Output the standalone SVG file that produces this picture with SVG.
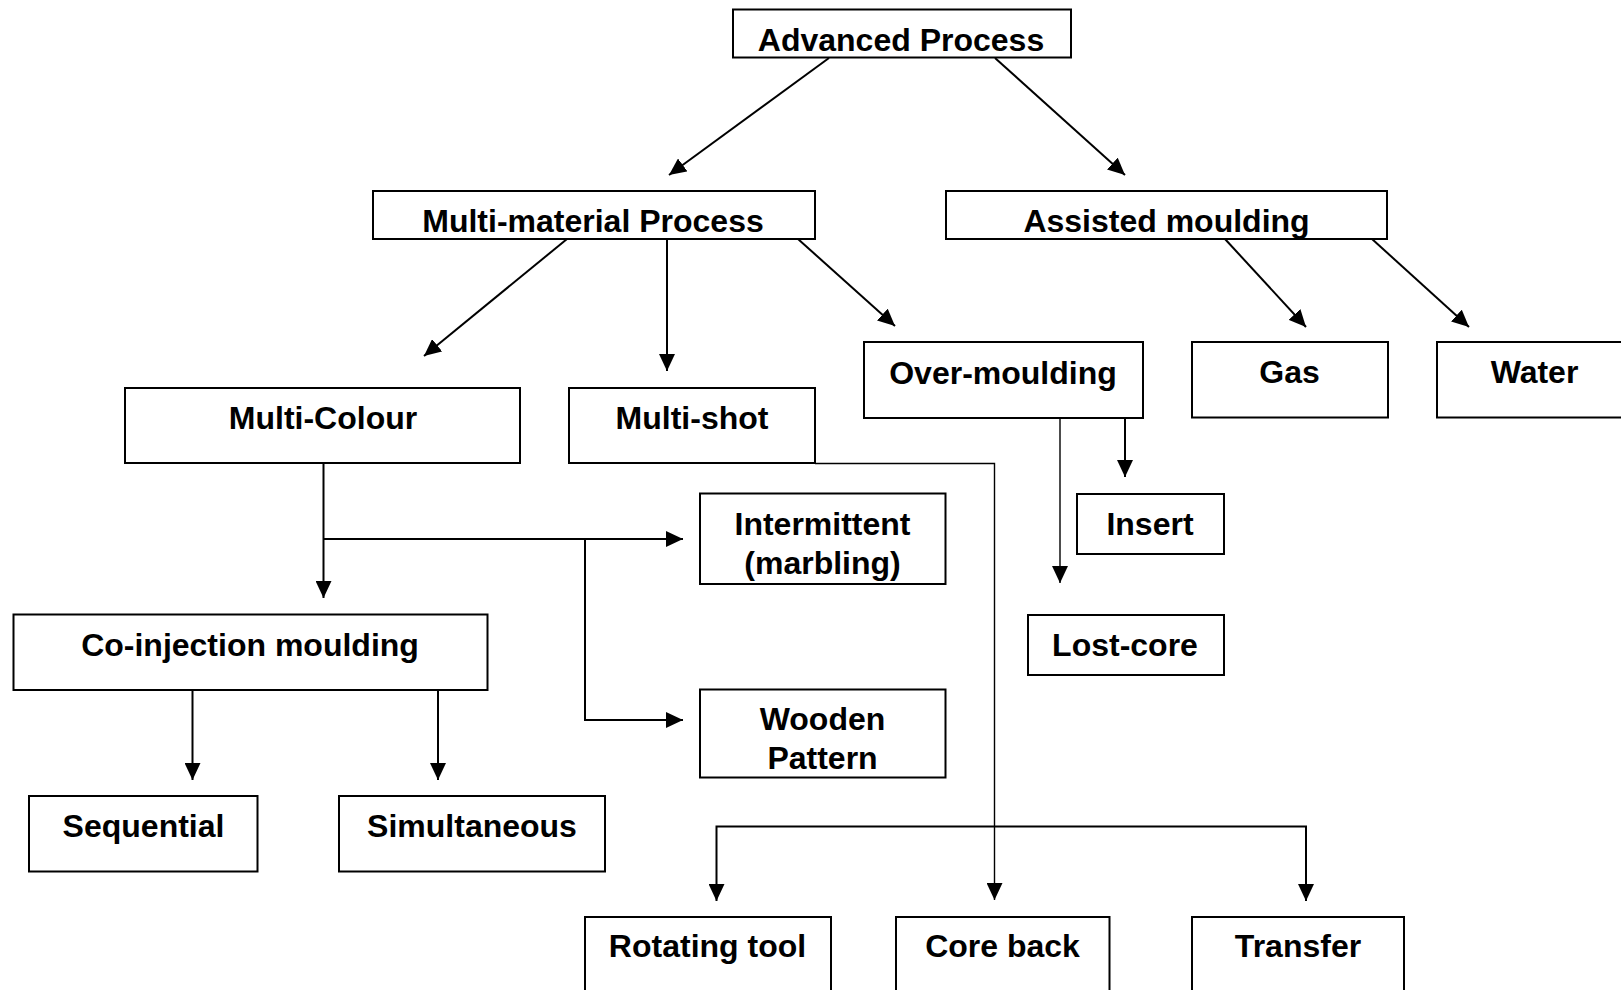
<svg xmlns="http://www.w3.org/2000/svg" width="1621" height="990" viewBox="0 0 1621 990">
<style>
.box{fill:#fff;stroke:#000;stroke-width:2}
.t{font-family:"Liberation Sans",Arial,sans-serif;font-weight:bold;font-size:32px;fill:#000;text-anchor:middle}
.c{fill:none;stroke:#000;stroke-width:2}
.thin{fill:none;stroke:#000;stroke-width:1.4}
</style>
<defs>
<marker id="ah" markerUnits="userSpaceOnUse" markerWidth="17" markerHeight="16" refX="17" refY="8" orient="auto-start-reverse">
<path d="M0,0 L17,8 L0,16 z" fill="#000"/>
</marker>
</defs>
<rect width="1621" height="990" fill="#fff"/>
<g id="connectors">
<line class="c" x1="829" y1="58" x2="669" y2="175" marker-end="url(#ah)"/>
<line class="c" x1="995" y1="58" x2="1125" y2="175" marker-end="url(#ah)"/>
<line class="c" x1="567" y1="239" x2="424" y2="356" marker-end="url(#ah)"/>
<line class="c" x1="667" y1="239" x2="667" y2="371" marker-end="url(#ah)"/>
<line class="c" x1="798" y1="239" x2="895" y2="326" marker-end="url(#ah)"/>
<line class="c" x1="1225" y1="239" x2="1306" y2="327" marker-end="url(#ah)"/>
<line class="c" x1="1372" y1="239" x2="1469" y2="327" marker-end="url(#ah)"/>
<line class="thin" x1="1060" y1="418" x2="1060" y2="583" marker-end="url(#ah)"/>
<line class="c" x1="1125" y1="418" x2="1125" y2="477" marker-end="url(#ah)"/>
<polyline class="thin" points="815,463.5 994.5,463.5 994.5,900" marker-end="url(#ah)"/>
<line class="c" x1="323.5" y1="463" x2="323.5" y2="598" marker-end="url(#ah)"/>
<line class="c" x1="323.5" y1="539" x2="683" y2="539" marker-end="url(#ah)"/>
<polyline class="c" points="585,539 585,720 683,720" marker-end="url(#ah)"/>
<line class="c" x1="192.5" y1="690" x2="192.5" y2="780" marker-end="url(#ah)"/>
<line class="c" x1="438" y1="690" x2="438" y2="780" marker-end="url(#ah)"/>
<polyline class="c" points="716.5,901 716.5,826.5 1306,826.5 1306,901" marker-start="url(#ah)" marker-end="url(#ah)"/>
</g>
<g id="advanced-process"><rect class="box" x="733" y="9.5" width="338" height="48"/><text class="t" x="901" y="50.5">Advanced Process</text></g>
<g id="multi-material"><rect class="box" x="373" y="191" width="442" height="48"/><text class="t" x="593" y="232">Multi-material Process</text></g>
<g id="assisted"><rect class="box" x="946" y="191" width="441" height="48"/><text class="t" x="1166.5" y="232">Assisted moulding</text></g>
<g id="multi-colour"><rect class="box" x="125" y="388" width="395" height="75"/><text class="t" x="323" y="428.5">Multi-Colour</text></g>
<g id="multi-shot"><rect class="box" x="569" y="388" width="246" height="75"/><text class="t" x="692" y="428.5">Multi-shot</text></g>
<g id="over-moulding"><rect class="box" x="864" y="342" width="279" height="76"/><text class="t" x="1003" y="383.5">Over-moulding</text></g>
<g id="gas"><rect class="box" x="1192" y="342" width="196" height="75.5"/><text class="t" x="1289.5" y="382.5">Gas</text></g>
<g id="water"><rect class="box" x="1437" y="342" width="200" height="75.5"/><text class="t" x="1534.5" y="382.5">Water</text></g>
<g id="insert"><rect class="box" x="1077" y="494" width="147" height="60"/><text class="t" x="1150" y="534.5">Insert</text></g>
<g id="intermittent"><rect class="box" x="700" y="493.5" width="245.5" height="90.5"/><text class="t" x="822.5" y="534.5">Intermittent</text><text class="t" x="822.5" y="573.5">(marbling)</text></g>
<g id="lost-core"><rect class="box" x="1028" y="615" width="196" height="60"/><text class="t" x="1125" y="655.5">Lost-core</text></g>
<g id="co-injection"><rect class="box" x="13.5" y="614.5" width="474" height="75.5"/><text class="t" x="250" y="655.5">Co-injection moulding</text></g>
<g id="wooden-pattern"><rect class="box" x="700" y="689.5" width="245.5" height="88"/><text class="t" x="822.5" y="729.5">Wooden</text><text class="t" x="822.5" y="768.5">Pattern</text></g>
<g id="sequential"><rect class="box" x="29" y="796" width="228.5" height="75.5"/><text class="t" x="143.5" y="836.5">Sequential</text></g>
<g id="simultaneous"><rect class="box" x="339" y="796" width="266" height="75.5"/><text class="t" x="472" y="836.5">Simultaneous</text></g>
<g id="rotating-tool"><rect class="box" x="585" y="917" width="246" height="90"/><text class="t" x="707.5" y="956.5">Rotating tool</text></g>
<g id="core-back"><rect class="box" x="896" y="917" width="213.5" height="90"/><text class="t" x="1002.5" y="956.5">Core back</text></g>
<g id="transfer"><rect class="box" x="1192" y="917" width="212" height="90"/><text class="t" x="1298" y="956.5">Transfer</text></g>
</svg>
